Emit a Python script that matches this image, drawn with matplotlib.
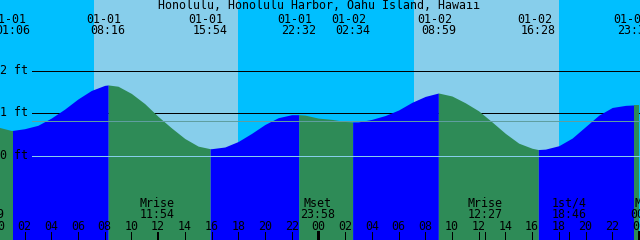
import matplotlib
matplotlib.use("Agg")
import matplotlib.pyplot as plt
import matplotlib.transforms as mtransforms
import numpy as np

title = "Honolulu, Honolulu Harbor, Oahu Island, Hawaii"

# water level every hour (ft), hour 0 = 01-01 00:00
hours = list(range(49))
level = [0.67, 0.59, 0.63, 0.71, 0.88, 1.09, 1.33, 1.53, 1.65, 1.63,
         1.46, 1.22, 0.92, 0.65, 0.40, 0.22, 0.16, 0.20, 0.33, 0.52,
         0.73, 0.89, 0.96, 0.95, 0.88, 0.85, 0.80, 0.79, 0.85, 0.94,
         1.07, 1.25, 1.39, 1.47, 1.40, 1.24, 1.05, 0.79, 0.52, 0.29,
         0.17, 0.15, 0.23, 0.41, 0.68, 0.95, 1.13, 1.18, 1.19]

# high / low tides
tide_date = ["01-01", "01-01", "01-01", "01-01", "01-02", "01-02", "01-02", "01-02"]
tide_time = ["01:06", "08:16", "15:54", "22:32", "02:34", "08:59", "16:28", "23:39"]
tide_kind = ["L", "H", "L", "H", "L", "H", "L", "H"]
tide_ft = [0.59, 1.66, 0.16, 0.96, 0.79, 1.47, 0.14, 1.19]

sun_rise = ["01-01 07:11", "01-02 07:11"]
sun_set = ["01-01 18:00", "01-02 18:01"]

moon_date = ["12-31", "01-01", "01-01", "01-02", "01-02", "01-03"]
moon_time = ["23:09", "11:54", "23:58", "12:27", "18:46", "00:41"]
moon_event = ["Mset", "Mrise", "Mset", "Mrise", "1st/4", "Mset"]

hour_ticks = list(range(0, 49, 2))
hour_labels = ["%02d" % (h % 24) for h in hour_ticks]
level_ticks = [0, 1, 2]
level_labels = ["0 ft", "1 ft", "2 ft"]
datum_ft = 0.82

DAY0 = {"12-31": -24, "01-01": 0, "01-02": 24, "01-03": 48}


def to_hours(date, hm):
    hh, mm = hm.split(":")
    return DAY0[date] + int(hh) + int(mm) / 60.0


# layout in pixels
W, H = 640, 240
PX_PER_H = 13.357
X0 = -2.2          # pixel column of hour 0
FT0 = 155.5        # pixel row of 0 ft
PX_PER_FT = 42.5

NIGHT = "#00bfff"
DAY = "#87ceeb"
RISING = "#0000ff"
FALLING = "#2e8b57"

font = {"family": "DejaVu Sans Mono", "size": 8.4, "color": "black"}

fig = plt.figure(figsize=(W / 100, H / 100), dpi=100)
ax = fig.add_axes([0, 0, 1, 1])
ax.set_axis_off()
ax.set_xlim((0 - X0) / PX_PER_H, (W - X0) / PX_PER_H)
ax.set_ylim((FT0 - H) / PX_PER_FT, FT0 / PX_PER_FT)

# x in hours, y in pixels from the top
trans = mtransforms.blended_transform_factory(ax.transData, fig.transFigure)


def ytop(ypx):
    return 1 - ypx / H


# night / day background
ax.axvspan(-100, 100, color=NIGHT, lw=0, zorder=0)
for r, s in zip(sun_rise, sun_set):
    a = to_hours(*r.split())
    b = to_hours(*s.split())
    ax.axvspan(a, b, color=DAY, lw=0, antialiased=False, zorder=0)

# level grid lines (black ones sit behind the water)
for lv in level_ticks:
    if lv == 0:
        ax.axhline(lv, xmin=32 / W, color="#87ceeb", lw=0.72, antialiased=False, zorder=3)
    else:
        ax.axhline(lv, xmin=32 / W, color="black", lw=0.72, antialiased=False, zorder=1)
ax.axhline(datum_ft, xmin=32 / W, color="#5f9ea0", lw=0.72, antialiased=False, zorder=3)

# water, blue when rising, green when falling
ext_h = [to_hours(d, t) for d, t in zip(tide_date, tide_time)]
t = np.array(hours + ext_h, dtype=float)
v = np.array(level + tide_ft, dtype=float)
order = np.argsort(t)
t, v = t[order], v[order]
edges = [-1e9] + ext_h + [1e9]
for a, b, k in zip(edges[:-1], edges[1:], tide_kind + ["L"]):
    m = (t >= a) & (t <= b)
    ax.fill_between(t[m], v[m], -3, color=RISING if k == "H" else FALLING,
                    lw=0, antialiased=False, zorder=2)

# tide labels along the top
for d, tm, h in zip(tide_date, tide_time, ext_h):
    ax.text(h - 4 / PX_PER_H, ytop(23), d, transform=trans, ha="center", va="baseline", fontdict=font, zorder=5)
    ax.text(h, ytop(34.3), tm, transform=trans, ha="center", va="baseline", fontdict=font, zorder=5)

fig.text(318.5 / W, ytop(9), title, ha="center", va="baseline", fontdict=font, zorder=5)

# level labels
for lv, lab in zip(level_ticks, level_labels):
    fig.text(0.5 / W, ytop(FT0 - lv * PX_PER_FT + 3.5), lab, ha="left", va="baseline", fontdict=font, zorder=5)

# moon events
for d, tm, ev in zip(moon_date, moon_time, moon_event):
    h = to_hours(d, tm)
    ax.text(h, ytop(206.7), ev, transform=trans, ha="center", va="baseline", fontdict=font, zorder=5)
    ax.text(h, ytop(218.3), tm, transform=trans, ha="center", va="baseline", fontdict=font, zorder=5)
    ax.axvline(h, ymin=0, ymax=8 / H, color="black", lw=0.72, antialiased=False, zorder=5)

# hour ticks along the bottom
for h, lab in zip(hour_ticks, hour_labels):
    ax.text(h, ytop(230), lab, transform=trans, ha="center", va="baseline", fontdict=font, zorder=5)
    lw = 2.16 if h % 24 == 0 else 0.72
    ax.axvline(h, ymin=0, ymax=8 / H, color="black", lw=lw, antialiased=False, zorder=5)

fig.savefig("out.png", dpi=100)
